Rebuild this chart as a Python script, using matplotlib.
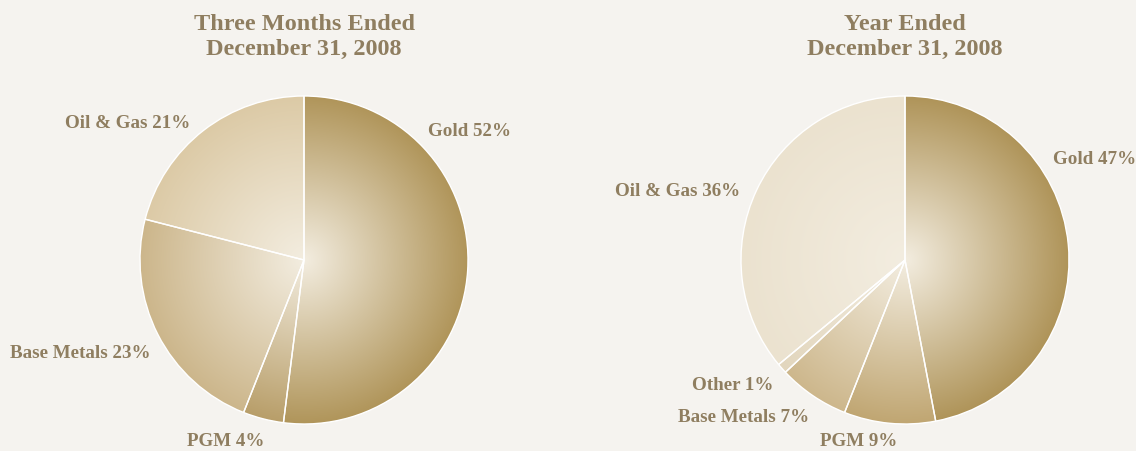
import numpy as np
import matplotlib
matplotlib.use("Agg")
import matplotlib.pyplot as plt
from matplotlib.colors import to_rgb

# Revenue mix by segment
quarter_labels = ["Gold", "PGM", "Base Metals", "Oil & Gas"]
quarter_values = [52, 4, 23, 21]
quarter_colors = ["#b0955a", "#b89e69", "#ccb68b", "#dccaa6"]

year_labels = ["Gold", "PGM", "Base Metals", "Other", "Oil & Gas"]
year_values = [47, 9, 7, 1, 36]
year_colors = ["#af9459", "#c0a672", "#cdb78c", "#e2d6bd", "#ebe2cf"]

titles = ["Three Months Ended\nDecember 31, 2008", "Year Ended\nDecember 31, 2008"]

W, H = 1136, 451
BG = "#f5f3ef"
TXT = "#8f7e60"
CENTER_COLOR = "#f3ede0"

fig = plt.figure(figsize=(W / 100, H / 100), dpi=100, facecolor=BG)
ax = fig.add_axes([0, 0, 1, 1])
ax.set_facecolor(BG)


def gradient_pie(ax, values, colors, cx, cy, r):
    wedges, _ = ax.pie(values, center=(cx, cy), radius=r, startangle=90,
                       counterclock=False, colors=colors,
                       wedgeprops=dict(edgecolor="white", linewidth=1.0))
    n = 400
    xs = np.linspace(cx - r, cx + r, n)
    ys = np.linspace(cy - r, cy + r, n)
    X, Y = np.meshgrid(xs, ys)
    t = np.clip(np.hypot(X - cx, Y - cy) / r, 0, 1)[..., None]
    c0 = np.array(to_rgb(CENTER_COLOR))
    for w, col in zip(wedges, colors):
        c1 = np.array(to_rgb(col))
        img = c0 * (1 - t) + c1 * t
        im = ax.imshow(img, extent=(cx - r, cx + r, cy - r, cy + r),
                       origin="lower", interpolation="bilinear", zorder=1)
        im.set_clip_path(w)
        w.set_facecolor("none")
        w.set_zorder(2)
    return wedges


font = dict(family="Liberation Serif", weight="bold", color=TXT)

gradient_pie(ax, quarter_values, quarter_colors, 304, H - 260, 164)
gradient_pie(ax, year_values, year_colors, 905, H - 260, 164)

ax.set_xlim(0, W)
ax.set_ylim(0, H)
ax.set_aspect("auto")
ax.axis("off")

for x, t in zip([304, 905], titles):
    ax.text(x, H - 37, t, ha="center", va="center", fontsize=17.5,
            linespacing=1.22, **font)

q_pos = [(428, 132, "left"), (264, 441, "right"), (150, 354, "right"), (190, 124, "right")]
for lab, v, (x, y, ha) in zip(quarter_labels, quarter_values, q_pos):
    ax.text(x, H - y, f"{lab} {v}%", ha=ha, va="center", fontsize=13.7, **font)

y_pos = [(1053, 160, "left"), (897, 442, "right"), (809, 417, "right"),
         (773, 386, "right"), (740, 192, "right")]
for lab, v, (x, y, ha) in zip(year_labels, year_values, y_pos):
    ax.text(x, H - y, f"{lab} {v}%", ha=ha, va="center", fontsize=13.7, **font)

fig.savefig("out.png", dpi=100, facecolor=BG)
